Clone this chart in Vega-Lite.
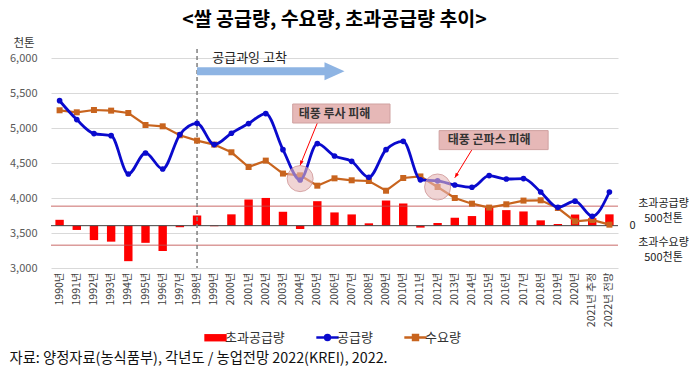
{
  "$schema": "https://vega.github.io/schema/vega-lite/v6.json",
  "padding": {"left": 9, "top": 9, "right": 0, "bottom": 0},
  "config": {
    "view": {"stroke": null},
    "font": "Noto Sans CJK KR",
    "axisX": {"title": null, "labelAngle": -90, "labelFontSize": 10.5, "labelColor": "#404040", "ticks": false, "domain": false, "labelPadding": 4, "grid": false},
    "legend": {"layout": {"bottom": {"anchor": "middle"}}}
  },
  "title": {"text": "자료: 양정자료(농식품부), 각년도 / 농업전망 2022(KREI), 2022.", "orient": "bottom", "anchor": "start", "fontSize": 14.3, "fontWeight": "normal", "color": "#111111", "offset": 7, "frame": "bounds"},
  "datasets": {
    "main": [
      {"year": "1990년", "supply": 5390, "demand": 5253, "excess": 150},
      {"year": "1991년", "supply": 5120, "demand": 5224, "excess": -110},
      {"year": "1992년", "supply": 4920, "demand": 5257, "excess": -370},
      {"year": "1993년", "supply": 4890, "demand": 5248, "excess": -410},
      {"year": "1994년", "supply": 4343, "demand": 5214, "excess": -910},
      {"year": "1995년", "supply": 4643, "demand": 5043, "excess": -440},
      {"year": "1996년", "supply": 4414, "demand": 5024, "excess": -650},
      {"year": "1997년", "supply": 4906, "demand": 4896, "excess": -40},
      {"year": "1998년", "supply": 5067, "demand": 4820, "excess": 260},
      {"year": "1999년", "supply": 4763, "demand": 4763, "excess": -15},
      {"year": "2000년", "supply": 4925, "demand": 4653, "excess": 290},
      {"year": "2001년", "supply": 5063, "demand": 4443, "excess": 670},
      {"year": "2002년", "supply": 5206, "demand": 4534, "excess": 710},
      {"year": "2003년", "supply": 4691, "demand": 4349, "excess": 356},
      {"year": "2004년", "supply": 4257, "demand": 4324, "excess": -85},
      {"year": "2005년", "supply": 4777, "demand": 4176, "excess": 627},
      {"year": "2006년", "supply": 4600, "demand": 4281, "excess": 339},
      {"year": "2007년", "supply": 4524, "demand": 4253, "excess": 288},
      {"year": "2008년", "supply": 4296, "demand": 4243, "excess": 60},
      {"year": "2009년", "supply": 4691, "demand": 4104, "excess": 644},
      {"year": "2010년", "supply": 4810, "demand": 4286, "excess": 568},
      {"year": "2011년", "supply": 4260, "demand": 4308, "excess": -50},
      {"year": "2012년", "supply": 4245, "demand": 4157, "excess": 68},
      {"year": "2013년", "supply": 4186, "demand": 4000, "excess": 203},
      {"year": "2014년", "supply": 4153, "demand": 3919, "excess": 246},
      {"year": "2015년", "supply": 4320, "demand": 3863, "excess": 457},
      {"year": "2016년", "supply": 4271, "demand": 3910, "excess": 398},
      {"year": "2017년", "supply": 4277, "demand": 3963, "excess": 364},
      {"year": "2018년", "supply": 4086, "demand": 3967, "excess": 136},
      {"year": "2019년", "supply": 3867, "demand": 3857, "excess": 42},
      {"year": "2020년", "supply": 3955, "demand": 3667, "excess": 285},
      {"year": "2021년 추정", "supply": 3739, "demand": 3686, "excess": 190},
      {"year": "2022년 전망", "supply": 4086, "demand": 3619, "excess": 290}
    ],
    "refs": [{"v": 500}, {"v": -500}],
    "zero": [{"v": 0}],
    "divider": [{"year": "1998년", "top": 6130, "bottom": 3000}],
    "trend": [{"from": "1998년", "to": "2006년", "v": 5810, "label": "공급과잉 고착", "labelAt": "1999년", "labelV": 6000}],
    "circles": [{"year": "2004년", "v": 4277}, {"year": "2012년", "v": 4157}],
    "boxes": [
      {"year": "2006년", "v": 5207, "label": "태풍 루사 피해", "fromYear": "2005년", "fromV": 5071, "toYear": "2004년", "toV": 4467},
      {"year": "2015년", "v": 4827, "label": "태풍 곤파스 피해", "fromYear": "2014년", "fromV": 4691, "toYear": "2013년", "toV": 4290}
    ]
  },
  "vconcat": [
    {
      "title": {"text": "<쌀 공급량, 수요량, 초과공급량 추이>", "fontSize": 19.5, "fontWeight": "bold", "anchor": "middle", "frame": "group", "color": "#000000", "offset": 7},
      "width": 567,
      "height": 210,
      "resolve": {"scale": {"y": "independent"}},
      "layer": [
        {
          "layer": [
            {
              "data": {"name": "main"},
              "mark": {"type": "bar", "width": 8.4},
              "encoding": {
                "x": {"field": "year", "type": "ordinal", "sort": null, "scale": {"paddingInner": 0.5, "paddingOuter": 0.25}},
                "y": {"field": "excess", "type": "quantitative"},
                "color": {
                  "datum": "초과공급량", "type": "nominal",
                  "scale": {"domain": ["초과공급량", "공급량", "수요량"], "range": ["#FF0000", "#0A0ACD", "#C8641E"]},
                  "legend": {
                    "orient": "bottom", "direction": "horizontal", "title": null,
                    "labelFontSize": 13, "labelColor": "#333333", "labelOffset": 3,
                    "columnPadding": 26, "symbolSize": 500, "offset": 4,
                    "encode": {"symbols": {"update": {
                      "shape": {"signal": "datum.value === '초과공급량' ? 'M-1,-0.33H1V0.33H-1Z' : datum.value === '공급량' ? 'M-1,0H1M-0.22,0A0.22,0.22,0,1,0,0.22,0A0.22,0.22,0,1,0,-0.22,0Z' : 'M-1,0H1M-0.22,-0.22H0.22V0.22H-0.22Z'"},
                      "fill": {"signal": "datum.value === '초과공급량' ? '#FF0000' : datum.value === '공급량' ? '#0A0ACD' : '#C8641E'"},
                      "stroke": {"signal": "datum.value === '초과공급량' ? '#FF0000' : datum.value === '공급량' ? '#0A0ACD' : '#C8641E'"},
                      "strokeWidth": {"signal": "datum.value === '초과공급량' ? 0 : 2.5"},
                      "opacity": {"value": 1},
                      "fillOpacity": {"value": 1}
                    }}}
                  }
                }
              }
            },
            {
              "data": {"name": "refs"},
              "mark": {"type": "rule", "color": "#C0504D", "strokeWidth": 1, "opacity": 0.85},
              "encoding": {"y": {"field": "v", "type": "quantitative"}}
            },
            {
              "data": {"name": "zero"},
              "mark": {"type": "rule", "color": "#404040", "strokeWidth": 1},
              "encoding": {"y": {"field": "v", "type": "quantitative"}}
            }
          ],
          "encoding": {
            "y": {
              "type": "quantitative",
              "scale": {"domain": [-1085, 4296], "nice": false, "zero": false},
              "axis": {
                "orient": "right", "title": null, "values": [-500, 0, 500],
                "grid": false, "domain": false, "ticks": false,
                "labelExpr": "datum.value > 0 ? ['초과공급량', '500천톤'] : (datum.value < 0 ? ['초과수요량', '500천톤'] : '0')",
                "labelAlign": {"condition": {"test": "datum.value == 0", "value": "left"}, "value": "center"},
                "labelPadding": {"condition": {"test": "datum.value == 0", "value": 11}, "value": 45},
                "labelOffset": {"condition": {"test": "datum.value == 0", "value": 0}, "value": -3},
                "labelFontSize": 11, "labelColor": "#222222", "labelLineHeight": 15.5, "labelBaseline": "middle"
              }
            }
          }
        },
        {
          "layer": [
            {
              "data": {"name": "divider"},
              "mark": {"type": "rule", "color": "#7F7F7F", "strokeWidth": 1.5, "strokeDash": [4, 3]},
              "encoding": {
                "x": {"field": "year", "type": "ordinal", "sort": null},
                "y": {"field": "top", "type": "quantitative"},
                "y2": {"field": "bottom"}
              }
            },
            {
              "data": {"name": "trend"},
              "mark": {"type": "rule", "color": "#8EB4E3", "strokeWidth": 8},
              "encoding": {
                "x": {"field": "from", "type": "ordinal", "sort": null},
                "x2": {"field": "to"},
                "y": {"field": "v", "type": "quantitative"}
              }
            },
            {
              "data": {"name": "trend"},
              "mark": {"type": "point", "shape": "M-1,-0.9L1,0L-1,0.9Z", "size": 400, "filled": true, "color": "#8EB4E3", "opacity": 1},
              "encoding": {
                "x": {"field": "to", "type": "ordinal", "sort": null},
                "y": {"field": "v", "type": "quantitative"}
              }
            },
            {
              "data": {"name": "trend"},
              "mark": {"type": "text", "align": "left", "baseline": "middle", "dx": -2, "fontSize": 13, "color": "#222222"},
              "encoding": {
                "x": {"field": "labelAt", "type": "ordinal", "sort": null},
                "y": {"field": "labelV", "type": "quantitative"},
                "text": {"field": "label"}
              }
            },
            {
              "data": {"name": "main"},
              "mark": {"type": "line", "strokeWidth": 2.2, "point": {"shape": "square", "size": 36, "filled": true}},
              "encoding": {
                "x": {"field": "year", "type": "ordinal", "sort": null},
                "y": {"field": "demand", "type": "quantitative"},
                "color": {"datum": "수요량", "type": "nominal"}
              }
            },
            {
              "data": {"name": "main"},
              "mark": {"type": "line", "strokeWidth": 2.8, "interpolate": "monotone", "point": {"shape": "circle", "size": 32, "filled": true}},
              "encoding": {
                "x": {"field": "year", "type": "ordinal", "sort": null},
                "y": {"field": "supply", "type": "quantitative"},
                "color": {"datum": "공급량", "type": "nominal"}
              }
            },
            {
              "data": {"name": "circles"},
              "mark": {"type": "point", "shape": "circle", "size": 680, "filled": true, "fill": "#E6B8B7", "fillOpacity": 0.6, "stroke": "#C98A8A", "strokeOpacity": 0.7, "strokeWidth": 1},
              "encoding": {
                "x": {"field": "year", "type": "ordinal", "sort": null},
                "y": {"field": "v", "type": "quantitative"}
              }
            },
            {
              "data": {"name": "boxes"},
              "mark": {"type": "rule", "color": "#FF0000", "strokeWidth": 1},
              "encoding": {
                "x": {"field": "fromYear", "type": "ordinal", "sort": null},
                "x2": {"field": "toYear"},
                "y": {"field": "fromV", "type": "quantitative"},
                "y2": {"field": "toV"}
              }
            },
            {
              "data": {"name": "boxes"},
              "mark": {"type": "point", "shape": "M0,0L-0.6,-1.5L0.6,-1.5Z", "size": 40, "filled": true, "color": "#FF0000", "opacity": 1},
              "encoding": {
                "x": {"field": "toYear", "type": "ordinal", "sort": null},
                "y": {"field": "toV", "type": "quantitative"},
                "angle": {"condition": {"test": "datum.year === '2006년'", "value": 22}, "value": 33}
              }
            },
            {
              "data": {"name": "boxes"},
              "transform": [{"filter": "datum.year === '2006년'"}],
              "mark": {"type": "point", "shape": "M-0.836,-0.19H1.11V0.19H-0.836Z", "size": 10000, "filled": true, "fill": "#E6B8B7", "fillOpacity": 1, "stroke": "#CFA1A0", "strokeWidth": 1, "opacity": 1},
              "encoding": {
                "x": {"field": "year", "type": "ordinal", "sort": null},
                "y": {"field": "v", "type": "quantitative"}
              }
            },
            {
              "data": {"name": "boxes"},
              "transform": [{"filter": "datum.year === '2015년'"}],
              "mark": {"type": "point", "shape": "M-1,-0.19H1.18V0.19H-1Z", "size": 10000, "filled": true, "fill": "#E6B8B7", "fillOpacity": 1, "stroke": "#CFA1A0", "strokeWidth": 1, "opacity": 1},
              "encoding": {
                "x": {"field": "year", "type": "ordinal", "sort": null},
                "y": {"field": "v", "type": "quantitative"}
              }
            },
            {
              "data": {"name": "boxes"},
              "mark": {"type": "text", "align": "center", "baseline": "middle", "fontSize": 12, "fontWeight": "bold", "color": "#333333"},
              "encoding": {
                "x": {"field": "year", "type": "ordinal", "sort": null},
                "y": {"field": "v", "type": "quantitative"},
                "text": {"field": "label"}
              }
            }
          ],
          "encoding": {
            "y": {
              "type": "quantitative",
              "scale": {"domain": [3000, 6000], "nice": false, "zero": false},
              "axis": {
                "orient": "left", "values": [3000, 3500, 4000, 4500, 5000, 5500, 6000], "format": ",d",
                "grid": true, "gridColor": "#D9D9D9", "domain": false, "ticks": false,
                "labelPadding": 14, "labelFontSize": 11, "labelColor": "#595959",
                "title": "천톤", "titleAngle": 0, "titleAlign": "left", "titleBaseline": "middle",
                "titleX": -38, "titleY": -15, "titleFontWeight": "normal", "titleFontSize": 11.5, "titleColor": "#333333"
              }
            }
          }
        }
      ]
    }
  ]
}
